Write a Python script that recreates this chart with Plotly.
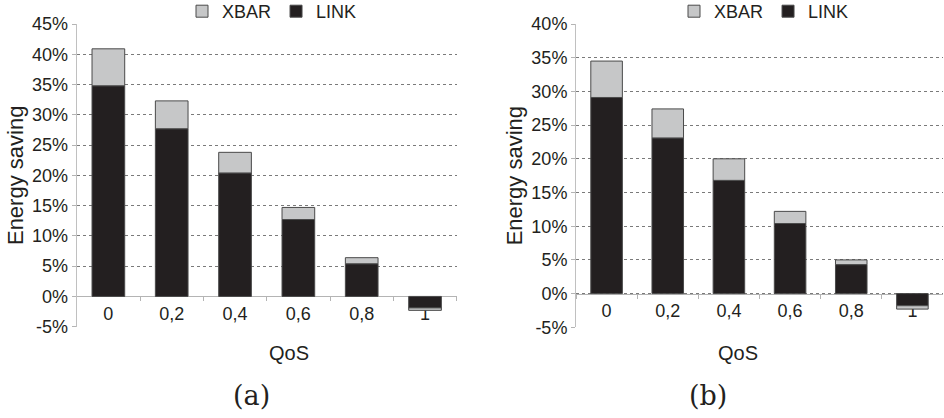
import plotly.graph_objects as go

# QoS levels on the x axis
categories = ["0", "0,2", "0,4", "0,6", "0,8", "1"]

# Energy saving (%) per component, panel (a)
link_a = [34.8, 27.7, 20.4, 12.7, 5.4, -1.9]
xbar_a = [6.1, 4.6, 3.4, 2.0, 1.0, -0.4]

# Energy saving (%) per component, panel (b)
link_b = [29.1, 23.1, 16.8, 10.4, 4.3, -1.8]
xbar_b = [5.4, 4.3, 3.2, 1.8, 0.7, -0.5]

# Y tick values and labels for each panel
yticks_a = [-5, 0, 5, 10, 15, 20, 25, 30, 35, 40, 45]
yticks_b = [-5, 0, 5, 10, 15, 20, 25, 30, 35, 40]
yticklabels_a = [f"{v}%" for v in yticks_a]
yticklabels_b = [f"{v}%" for v in yticks_b]

W, H = 944, 418
BLACK = "#231f20"
GRAY = "#c6c7c8"
EDGE = "#4a4a4a"
FONT = "Liberation Sans, Arial, sans-serif"

fig = go.Figure()


def add_panel(link, xbar, xa, ya, legend):
    fig.add_trace(go.Bar(
        x=categories, y=link, name="LINK", xaxis=xa, yaxis=ya, legend=legend,
        marker=dict(color=BLACK, line=dict(color=EDGE, width=1)),
        legendrank=2,
    ))
    fig.add_trace(go.Bar(
        x=categories, y=xbar, name="XBAR", xaxis=xa, yaxis=ya, legend=legend,
        marker=dict(color=GRAY, line=dict(color=EDGE, width=1)),
        legendrank=1,
    ))


add_panel(link_a, xbar_a, "x", "y", "legend")
add_panel(link_b, xbar_b, "x2", "y2", "legend2")

# panel geometry in pixels
xdom_a = [76.7 / W, 456.7 / W]
xdom_b = [576.0 / W, 943.0 / W]
ydom_a = [1 - 326.7 / H, 1 - 24.0 / H]
ydom_b = [1 - 327.3 / H, 1 - 24.0 / H]
yr_a = [-5, 45]
yr_b = [-5, 40]


def zero_pos(dom, rng):
    return dom[0] + (0 - rng[0]) / (rng[1] - rng[0]) * (dom[1] - dom[0])


def xaxis_cfg(dom, anchor_pos):
    return dict(
        domain=dom, anchor="free", position=anchor_pos,
        type="category", showline=True, linecolor="#b4b4b4", linewidth=1,
        ticks="outside", tickson="boundaries", ticklen=4, tickcolor="#b4b4b4",
        showgrid=False, layer="below traces",
        tickfont=dict(family=FONT, size=18, color=BLACK),
        ticklabelstandoff=1, automargin=False,
    )


def yaxis_cfg(dom, rng, vals, labels, anchor):
    return dict(
        domain=dom, range=rng, anchor=anchor,
        tickvals=vals, ticktext=labels,
        showline=True, linecolor="#c0c0c0", linewidth=1,
        ticks="outside", ticklen=4, tickcolor="#b4b4b4",
        showgrid=True, gridcolor="#7a7a7a", gridwidth=1, griddash="dot",
        zeroline=False, automargin=False,
        tickfont=dict(family=FONT, size=18, color=BLACK),
        title=dict(text="Energy saving", font=dict(family=FONT, size=22, color=BLACK), standoff=2),
    )


legend_common = dict(
    orientation="h", xanchor="center", yanchor="top",
    xref="paper", yref="paper",
    font=dict(family=FONT, size=18, color=BLACK),
    itemwidth=30, tracegroupgap=0, bgcolor="rgba(0,0,0,0)",
    traceorder="normal",
)

fig.update_layout(
    width=W, height=H,
    margin=dict(l=0, r=0, t=0, b=0, autoexpand=False),
    paper_bgcolor="white", plot_bgcolor="white",
    barmode="relative", bargap=0.484,
    showlegend=True,
    xaxis=xaxis_cfg(xdom_a, zero_pos(ydom_a, yr_a)),
    xaxis2=xaxis_cfg(xdom_b, zero_pos(ydom_b, yr_b)),
    yaxis=yaxis_cfg(ydom_a, yr_a, yticks_a, yticklabels_a, "x"),
    yaxis2=yaxis_cfg(ydom_b, yr_b, yticks_b, yticklabels_b, "x2"),
    legend=dict(x=272 / W, y=1 + 7 / H, **legend_common),
    legend2=dict(x=764 / W, y=1 + 7 / H, **legend_common),
    annotations=[
        dict(text="QoS", x=sum(xdom_a) / 2, y=1 - 353 / H, xref="paper", yref="paper",
             yanchor="middle", showarrow=False, font=dict(family=FONT, size=20, color=BLACK)),
        dict(text="QoS", x=sum(xdom_b) / 2, y=1 - 353 / H, xref="paper", yref="paper",
             yanchor="middle", showarrow=False, font=dict(family=FONT, size=20, color=BLACK)),
        dict(text="(a)", x=231 / W, y=1 - 395 / H, xref="paper", yref="paper",
             yanchor="middle", showarrow=False, font=dict(family="DejaVu Serif, serif", size=27, color=BLACK)),
        dict(text="(b)", x=729 / W, y=1 - 395 / H, xref="paper", yref="paper",
             yanchor="middle", showarrow=False, font=dict(family="DejaVu Serif, serif", size=27, color=BLACK)),
    ],
)

fig.write_html("out.html")
